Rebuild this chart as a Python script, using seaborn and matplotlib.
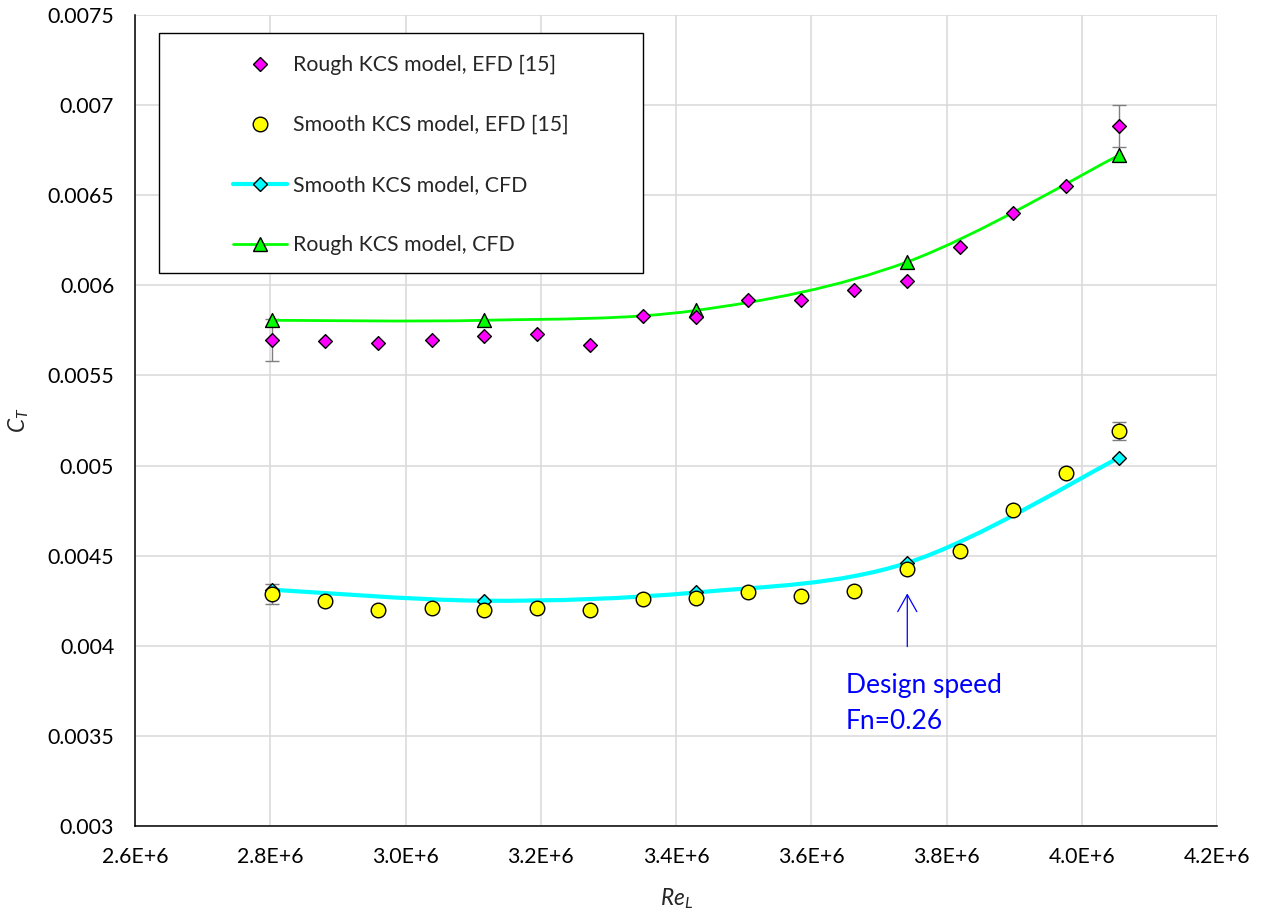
"""CT vs Re_L for smooth and rough KCS model, EFD and CFD"""

import numpy as np
import matplotlib
matplotlib.use("Agg")
import matplotlib.pyplot as plt
import matplotlib.ticker as mticker
from matplotlib.path import Path
from matplotlib.patches import PathPatch, Rectangle
from matplotlib.lines import Line2D
import seaborn as sns

# Re_L of the towing tank speeds
re_efd = [2.803e6, 2.881e6, 2.959e6, 3.039e6, 3.116e6, 3.195e6, 3.273e6, 3.351e6, 3.430e6,
          3.507e6, 3.585e6, 3.663e6, 3.742e6, 3.820e6, 3.898e6, 3.977e6, 4.055e6]
ct_rough_efd = [0.005698, 0.005690, 0.005680, 0.005698, 0.005718, 0.005728, 0.005670, 0.005828,
                0.005824, 0.005917, 0.005920, 0.005976, 0.006022, 0.006213, 0.006400, 0.006550,
                0.006883]
ct_smooth_efd = [0.004287, 0.004248, 0.004198, 0.004207, 0.004200, 0.004211, 0.004198, 0.004257,
                 0.004267, 0.004300, 0.004278, 0.004306, 0.004428, 0.004528, 0.004756, 0.004956,
                 0.005194]

# uncertainty bars (first and last speed only)
err_re = [2.803e6, 4.055e6]
err_rough = [0.000117, 0.000117]
err_ct_rough = [0.005698, 0.006883]
err_smooth = [0.000056, 0.000050]
err_ct_smooth = [0.004287, 0.005194]

# CFD runs
re_cfd = [2.803e6, 3.116e6, 3.430e6, 3.742e6, 4.055e6]
ct_smooth_cfd = [0.004311, 0.004250, 0.004296, 0.004460, 0.005043]
ct_rough_cfd = [0.005806, 0.005806, 0.005861, 0.006130, 0.006722]

design_re = 3.742e6

x_ticks = [2.6e6, 2.8e6, 3.0e6, 3.2e6, 3.4e6, 3.6e6, 3.8e6, 4.0e6, 4.2e6]


def smooth_path(xs, ys):
    # Excel-like smoothed line (Catmull-Rom as cubic Bezier)
    pts = np.column_stack([xs, ys])
    n = len(pts)
    verts = [pts[0]]
    codes = [Path.MOVETO]
    for i in range(n - 1):
        p0 = pts[max(i - 1, 0)]
        p1 = pts[i]
        p2 = pts[i + 1]
        p3 = pts[min(i + 2, n - 1)]
        verts += [p1 + (p2 - p0) / 6, p2 - (p3 - p1) / 6, p2]
        codes += [Path.CURVE4] * 3
    return Path(verts, codes)


sns.set_style("whitegrid")
plt.rcParams['font.family'] = ['Lato', 'DejaVu Sans']
plt.rcParams['mathtext.fontset'] = 'custom'
plt.rcParams['mathtext.it'] = 'Lato:italic'
plt.rcParams['mathtext.rm'] = 'Lato'

fs = 15.3
fig = plt.figure(figsize=(12.67, 9.15), dpi=100)
ax = fig.add_axes([135 / 1267, 1 - 826 / 915, 1082 / 1267, 811 / 915])

# error bars
ax.errorbar(err_re, err_ct_rough, yerr=err_rough, fmt='none', ecolor='#7f7f7f',
            elinewidth=1.0, capsize=4.7, capthick=1.0, zorder=2)
ax.errorbar(err_re, err_ct_smooth, yerr=err_smooth, fmt='none', ecolor='#7f7f7f',
            elinewidth=1.0, capsize=4.7, capthick=1.0, zorder=2)

# smoothed CFD lines
ax.add_patch(PathPatch(smooth_path(re_cfd, ct_smooth_cfd), facecolor='none',
                       edgecolor='#00FFFF', lw=3.0, zorder=3))
ax.add_patch(PathPatch(smooth_path(re_cfd, ct_rough_cfd), facecolor='none',
                       edgecolor='#00FF00', lw=2.0, zorder=3))

# markers
sns.scatterplot(x=re_cfd, y=ct_smooth_cfd, marker='D', s=7 ** 2, color='#00FFFF',
                edgecolor='black', linewidth=1.0, ax=ax, zorder=4)
sns.scatterplot(x=re_cfd, y=ct_rough_cfd, marker='^', s=10 ** 2, color='#00FF00',
                edgecolor='black', linewidth=1.0, ax=ax, zorder=4)
sns.scatterplot(x=re_efd, y=ct_rough_efd, marker='D', s=7 ** 2, color='#FF00FF',
                edgecolor='black', linewidth=1.0, ax=ax, zorder=5)
sns.scatterplot(x=re_efd, y=ct_smooth_efd, marker='o', s=10.5 ** 2, color='#FFFF00',
                edgecolor='black', linewidth=1.0, ax=ax, zorder=5)

# axes
ax.set_xlim(2.6e6, 4.2e6)
ax.set_ylim(0.003, 0.0075)
ax.set_xticks(x_ticks)
ax.yaxis.set_major_locator(mticker.MultipleLocator(0.0005))
ax.xaxis.set_major_formatter(mticker.FuncFormatter(lambda v, p: f"{v / 1e6:.1f}E+6"))
ax.yaxis.set_major_formatter(mticker.FuncFormatter(lambda v, p: f"{round(v, 5):g}"))
ax.tick_params(axis='both', length=0, pad=15, labelsize=fs, labelcolor='black')
ax.grid(True, color='#d9d9d9', linewidth=1.1)
for s in ['top', 'right']:
    ax.spines[s].set_visible(False)
for s in ['left', 'bottom']:
    ax.spines[s].set_color('black')
    ax.spines[s].set_linewidth(1.1)
ax.set_xlabel(r'$Re_L$', fontsize=fs + 1, labelpad=14)
ax.set_ylabel(r'$C_T$', fontsize=fs + 1, labelpad=12)

# design speed annotation
ax.annotate('', xy=(design_re, 0.004306), xytext=(design_re, 0.00398),
            arrowprops=dict(arrowstyle='->,head_length=0.8,head_width=0.45',
                            color='#0000FF', lw=0.9), fontsize=fs, zorder=6)
ax.text(3.6514e6, 0.003847, 'Design speed\nFn=0.26', color='#0000FF', fontsize=19,
        ha='left', va='top', linespacing=1.55, zorder=6)

# legend with a separate frame
ax.add_patch(Rectangle((0.0222, 0.6819), 0.4473, 0.2959, transform=ax.transAxes,
                       facecolor='white', edgecolor='black', lw=1.0, zorder=7))
handles = [
    Line2D([], [], ls='none', marker='D', ms=7, mfc='#FF00FF', mec='black', mew=1.0),
    Line2D([], [], ls='none', marker='o', ms=10.5, mfc='#FFFF00', mec='black', mew=1.0),
    Line2D([], [], color='#00FFFF', lw=3.0, marker='D', ms=7, mfc='#00FFFF', mec='black', mew=1.0),
    Line2D([], [], color='#00FF00', lw=2.0, marker='^', ms=10, mfc='#00FF00', mec='black', mew=1.0),
]
labels = ['Rough KCS model, EFD [15]', 'Smooth KCS model, EFD [15]',
          'Smooth KCS model, CFD', 'Rough KCS model, CFD']
leg = ax.legend(handles, labels, loc='upper left', bbox_to_anchor=(0.0906, 0.9506),
                frameon=False, fontsize=fs, borderpad=0, borderaxespad=0,
                handlelength=2.55, handletextpad=0.25, labelspacing=1.88)
leg.set_zorder(8)

fig.savefig("out.png", dpi=100)
